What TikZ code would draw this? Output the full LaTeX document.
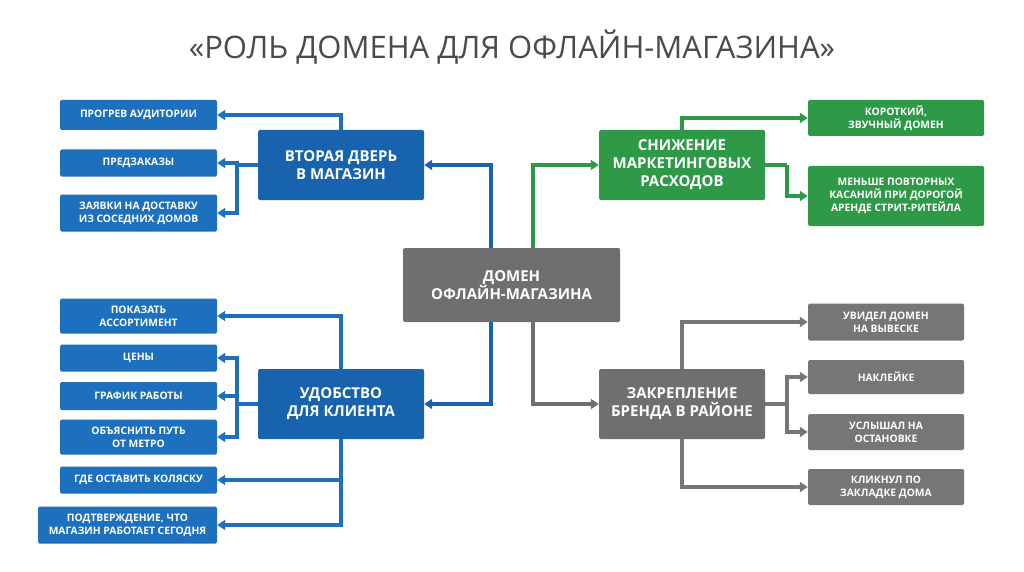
\documentclass[tikz,border=0pt]{standalone}
\usepackage{fontspec}
\setmainfont{Open Sans}
\usetikzlibrary{arrows.meta}
\definecolor{bmain}{HTML}{1763AE}
\definecolor{bleaf}{HTML}{1C70BE}
\definecolor{gmain}{HTML}{2E9A48}
\definecolor{gray1}{HTML}{6F6F6F}
\definecolor{gleaf}{HTML}{767676}
\definecolor{ttl}{HTML}{4A4A4A}
\begin{document}
\begin{tikzpicture}[x=1pt,y=-1pt,
 box/.style={draw=none,rounded corners=1.5pt,text=white,font=\bfseries,align=center,inner sep=0pt},
 mainb/.style={box,minimum width=166pt,minimum height=70pt,font=\bfseries\fontsize{15}{18}\selectfont},
 leaf/.style={box,minimum width=157pt,font=\bfseries\fontsize{10.3}{13}\selectfont},
 rleaf/.style={box,minimum width=176pt,font=\bfseries\fontsize{10.3}{13}\selectfont},
 conn/.style={line width=4pt,-{Triangle[length=8pt,width=10pt]}},
]
\useasboundingbox (0,0) rectangle (1024,572);
\node[text=ttl,font=\fontsize{31}{34}\selectfont] (title) at (512,47) {«РОЛЬ ДОМЕНА ДЛЯ ОФЛАЙН-МАГАЗИНА»};

\node[mainb,fill=gray1,minimum width=217pt,minimum height=74pt] (c) at (511.5,285) {ДОМЕН\\ОФЛАЙН-МАГАЗИНА};
\node[mainb,fill=bmain] (b1) at (341,165) {ВТОРАЯ ДВЕРЬ\\В МАГАЗИН};
\node[mainb,fill=bmain] (b2) at (341,404) {УДОБСТВО\\ДЛЯ КЛИЕНТА};
\node[mainb,fill=gmain] (g1) at (682,165) {СНИЖЕНИЕ\\МАРКЕТИНГОВЫХ\\РАСХОДОВ};
\node[mainb,fill=gray1] (g2) at (682,404) {ЗАКРЕПЛЕНИЕ\\БРЕНДА В РАЙОНЕ};

\node[leaf,fill=bleaf,minimum height=30pt] (l1) at (138.5,115) {ПРОГРЕВ АУДИТОРИИ};
\node[leaf,fill=bleaf,minimum height=27pt] (l2) at (138.5,163) {ПРЕДЗАКАЗЫ};
\node[leaf,fill=bleaf,minimum height=37pt] (l3) at (138.5,213) {ЗАЯВКИ НА ДОСТАВКУ\\ИЗ СОСЕДНИХ ДОМОВ};
\node[leaf,fill=bleaf,minimum height=35pt] (l4) at (138.5,316) {ПОКАЗАТЬ\\АССОРТИМЕНТ};
\node[leaf,fill=bleaf,minimum height=27pt] (l5) at (138.5,358) {ЦЕНЫ};
\node[leaf,fill=bleaf,minimum height=28pt] (l6) at (138.5,396) {ГРАФИК РАБОТЫ};
\node[leaf,fill=bleaf,minimum height=35pt] (l7) at (138.5,437) {ОБЪЯСНИТЬ ПУТЬ\\ОТ МЕТРО};
\node[leaf,fill=bleaf,minimum height=27pt] (l8) at (138.5,480) {ГДЕ ОСТАВИТЬ КОЛЯСКУ};
\node[leaf,fill=bleaf,minimum height=37pt,minimum width=179pt] (l9) at (127.5,525) {ПОДТВЕРЖДЕНИЕ, ЧТО\\МАГАЗИН РАБОТАЕТ СЕГОДНЯ};

\node[rleaf,fill=gmain,minimum height=36pt] (r1) at (896,118) {КОРОТКИЙ,\\ЗВУЧНЫЙ ДОМЕН};
\node[rleaf,fill=gmain,minimum height=60pt] (r2) at (896,196) {МЕНЬШЕ ПОВТОРНЫХ\\КАСАНИЙ ПРИ ДОРОГОЙ\\АРЕНДЕ СТРИТ-РИТЕЙЛА};
\node[rleaf,fill=gleaf,minimum height=37pt,minimum width=156pt] (r3) at (886,322) {УВИДЕЛ ДОМЕН\\НА ВЫВЕСКЕ};
\node[rleaf,fill=gleaf,minimum height=34pt,minimum width=156pt] (r4) at (886,377) {НАКЛЕЙКЕ};
\node[rleaf,fill=gleaf,minimum height=36pt,minimum width=156pt] (r5) at (886,432) {УСЛЫШАЛ НА\\ОСТАНОВКЕ};
\node[rleaf,fill=gleaf,minimum height=36pt,minimum width=156pt] (r6) at (886,487) {КЛИКНУЛ ПО\\ЗАКЛАДКЕ ДОМА};

% center
\draw[conn,bmain] ([xshift=-21pt]c.north) |- (b1.east);
\draw[conn,bmain] ([xshift=-21pt]c.south) |- (b2.east);
\draw[conn,gmain] ([xshift=21pt]c.north) |- (g1.west);
\draw[conn,gray1] ([xshift=21pt]c.south) |- (g2.west);
% blue 1
\draw[conn,bleaf] (b1.north) |- (l1.east);
\coordinate (j1) at (237,165);
\draw[line width=4pt,bleaf] (b1.west) -- (j1);
\draw[conn,bleaf] (j1) |- (l2.east);
\draw[conn,bleaf] (j1) |- (l3.east);
% blue 2
\draw[conn,bleaf] (b2.north) |- (l4.east);
\coordinate (j2) at (237,404);
\draw[line width=4pt,bleaf] (b2.west) -- (j2);
\draw[conn,bleaf] (j2) |- (l5.east);
\draw[conn,bleaf] (j2) |- (l6.east);
\draw[conn,bleaf] (j2) |- (l7.east);
\draw[conn,bleaf] (b2.south) |- (l8.east);
\draw[conn,bleaf] (b2.south) |- (l9.east);
% green
\draw[conn,gmain] (g1.north) |- (r1.west);
\coordinate (j3) at (787,165);
\draw[line width=4pt,gmain] (g1.east) -- (j3);
\draw[conn,gmain] (j3) |- (r2.west);
% gray
\draw[conn,gleaf] (g2.north) |- (r3.west);
\coordinate (j4) at (787,404);
\draw[line width=4pt,gleaf] (g2.east) -- (j4);
\draw[conn,gleaf] (j4) |- (r4.west);
\draw[conn,gleaf] (j4) |- (r5.west);
\draw[conn,gleaf] (g2.south) |- (r6.west);
\end{tikzpicture}
\end{document}
